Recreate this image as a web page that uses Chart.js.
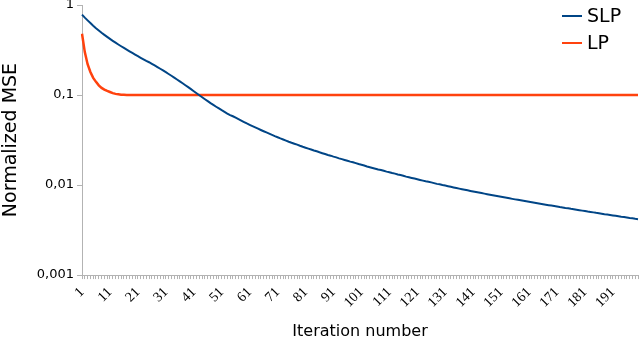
<!DOCTYPE html>
<html>
<head>
<meta charset="utf-8">
<script src="https://cdn.jsdelivr.net/npm/chart.js@4/dist/chart.umd.min.js"></script>
<style>
  body { margin: 0; background: #fff; }
  #wrap { width: 640px; height: 342px; }
</style>
</head>
<body>
<div id="wrap"><canvas id="mse" width="640" height="342"></canvas></div>
<script>
// iteration index 1..200 (category labels)
const iterations = Array.from({ length: 200 }, (_, i) => String(i + 1));

const seriesNames = ['SLP', 'LP'];
const seriesColors = ['#004586', '#ff420e'];

// values
const slp = [
    0.782, 0.724, 0.675, 0.630, 0.589, 0.553, 0.521, 0.492, 0.466, 0.442,
    0.420, 0.400, 0.3815, 0.3642, 0.3481, 0.3332, 0.3191, 0.3058, 0.2933, 0.2813,
    0.2700, 0.2593, 0.2490, 0.2392, 0.2314, 0.2222, 0.2132, 0.2044, 0.1958, 0.1874,
    0.1792, 0.1713, 0.1636, 0.1562, 0.1489, 0.1418, 0.1350, 0.1285, 0.1222, 0.1161,
    0.1103, 0.1047, 0.0994, 0.0944, 0.0897, 0.0854, 0.0813, 0.0776, 0.0741, 0.0709,
    0.0678, 0.0650, 0.0623, 0.0599, 0.0581, 0.0560, 0.0540, 0.0520, 0.0501, 0.0483,
    0.0467, 0.0452, 0.0437, 0.0423, 0.0409, 0.0396, 0.0384, 0.0372, 0.0361, 0.0350,
    0.0340, 0.0330, 0.0321, 0.0312, 0.0303, 0.0295, 0.0288, 0.0281, 0.0273, 0.0266,
    0.0260, 0.0254, 0.0248, 0.0242, 0.0237, 0.0231, 0.0226, 0.0221, 0.0216, 0.0212,
    0.0207, 0.0203, 0.0198, 0.0194, 0.0190, 0.0186, 0.0182, 0.0179, 0.0175, 0.0171,
    0.0168, 0.0165, 0.0161, 0.0158, 0.0155, 0.0152, 0.0149, 0.0147, 0.0144, 0.0141,
    0.0139, 0.0136, 0.0134, 0.0131, 0.0129, 0.0127, 0.0124, 0.0122, 0.0120, 0.0118,
    0.0116, 0.0114, 0.0112, 0.0110, 0.0109, 0.0107, 0.0105, 0.0103, 0.0102, 0.0100,
    0.00986, 0.00971, 0.00956, 0.00941, 0.00927, 0.00913, 0.00900, 0.00887, 0.00874, 0.00861,
    0.00849, 0.00837, 0.00826, 0.00814, 0.00803, 0.00792, 0.00781, 0.00770, 0.00760, 0.00750,
    0.00740, 0.00731, 0.00721, 0.00712, 0.00702, 0.00693, 0.00685, 0.00676, 0.00668, 0.00659,
    0.00651, 0.00643, 0.00635, 0.00628, 0.00620, 0.00613, 0.00605, 0.00598, 0.00591, 0.00584,
    0.00577, 0.00570, 0.00564, 0.00557, 0.00551, 0.00544, 0.00538, 0.00532, 0.00526, 0.00520,
    0.00514, 0.00508, 0.00503, 0.00497, 0.00491, 0.00486, 0.00481, 0.00475, 0.00470, 0.00465,
    0.00460, 0.00455, 0.00450, 0.00445, 0.00441, 0.00436, 0.00431, 0.00427, 0.00422, 0.00418
];

const lp = [
    0.48, 0.30, 0.22, 0.18, 0.155, 0.14, 0.128, 0.12, 0.115, 0.111,
    0.108, 0.105, 0.103, 0.102, 0.101, 0.1005, 0.1, 0.1, 0.1, 0.1,
    0.1, 0.1, 0.1, 0.1, 0.1, 0.1, 0.1, 0.1, 0.1, 0.1,
    0.1, 0.1, 0.1, 0.1, 0.1, 0.1, 0.1, 0.1, 0.1, 0.1,
    0.1, 0.1, 0.1, 0.1, 0.1, 0.1, 0.1, 0.1, 0.1, 0.1,
    0.1, 0.1, 0.1, 0.1, 0.1, 0.1, 0.1, 0.1, 0.1, 0.1,
    0.1, 0.1, 0.1, 0.1, 0.1, 0.1, 0.1, 0.1, 0.1, 0.1,
    0.1, 0.1, 0.1, 0.1, 0.1, 0.1, 0.1, 0.1, 0.1, 0.1,
    0.1, 0.1, 0.1, 0.1, 0.1, 0.1, 0.1, 0.1, 0.1, 0.1,
    0.1, 0.1, 0.1, 0.1, 0.1, 0.1, 0.1, 0.1, 0.1, 0.1,
    0.1, 0.1, 0.1, 0.1, 0.1, 0.1, 0.1, 0.1, 0.1, 0.1,
    0.1, 0.1, 0.1, 0.1, 0.1, 0.1, 0.1, 0.1, 0.1, 0.1,
    0.1, 0.1, 0.1, 0.1, 0.1, 0.1, 0.1, 0.1, 0.1, 0.1,
    0.1, 0.1, 0.1, 0.1, 0.1, 0.1, 0.1, 0.1, 0.1, 0.1,
    0.1, 0.1, 0.1, 0.1, 0.1, 0.1, 0.1, 0.1, 0.1, 0.1,
    0.1, 0.1, 0.1, 0.1, 0.1, 0.1, 0.1, 0.1, 0.1, 0.1,
    0.1, 0.1, 0.1, 0.1, 0.1, 0.1, 0.1, 0.1, 0.1, 0.1,
    0.1, 0.1, 0.1, 0.1, 0.1, 0.1, 0.1, 0.1, 0.1, 0.1,
    0.1, 0.1, 0.1, 0.1, 0.1, 0.1, 0.1, 0.1, 0.1, 0.1,
    0.1, 0.1, 0.1, 0.1, 0.1, 0.1, 0.1, 0.1, 0.1, 0.1
];

// y axis ticks and their labels (decimal comma as in the original)
const yTickValues = [0.001, 0.01, 0.1, 1];
const yTickLabels = ['0,001', '0,01', '0,1', '1'];

const axisGray = '#b3b3b3';

// legend drawn inside the plot, top right
const insideLegend = {
    id: 'insideLegend',
    afterDraw(chart) {
        const ctx = chart.ctx;
        const area = chart.chartArea;
        ctx.save();
        ctx.font = '19px "DejaVu Sans"';
        ctx.textBaseline = 'middle';
        chart.data.datasets.forEach((ds, i) => {
            let y = area.top + 11 + i * 27;
            let x = area.right - 76;
            ctx.strokeStyle = ds.borderColor;
            ctx.lineWidth = 2;
            ctx.beginPath();
            ctx.moveTo(x, y);
            ctx.lineTo(x + 20, y);
            ctx.stroke();
            ctx.fillStyle = '#000';
            ctx.fillText(ds.label, x + 25, y + 1);
        });
        ctx.restore();
    }
};

const ctx = document.getElementById('mse').getContext('2d');
new Chart(ctx, {
    type: 'line',
    data: {
        labels: iterations,
        datasets: [
            { label: seriesNames[0], data: slp, borderColor: seriesColors[0], borderWidth: 2 },
            { label: seriesNames[1], data: lp, borderColor: seriesColors[1], borderWidth: 2.5 }
        ]
    },
    options: {
        responsive: false,
        animation: false,
        devicePixelRatio: 1,
        layout: { padding: { top: 0, right: 2, left: 0, bottom: 1 } },
        elements: { point: { radius: 0 }, line: { tension: 0 } },
        plugins: {
            legend: { display: false },
            tooltip: { enabled: false }
        },
        scales: {
            x: {
                grid: { drawOnChartArea: false, color: axisGray, tickLength: 4 },
                border: { color: axisGray },
                afterFit: s => { s.paddingRight = 0; },
                ticks: {
                    autoSkip: false,
                    minRotation: 45,
                    maxRotation: 45,
                    padding: 5,
                    color: '#000',
                    font: { family: '"Liberation Serif"', size: 14 },
                    callback: (v, i) => (i % 10 === 0 ? iterations[i] : '')
                },
                title: {
                    display: true,
                    text: 'Iteration number',
                    color: '#000',
                    font: { family: '"DejaVu Sans"', size: 16 },
                    padding: { top: 6, bottom: 0 }
                }
            },
            y: {
                type: 'logarithmic',
                min: 0.001,
                max: 1,
                grid: { drawOnChartArea: false, color: axisGray, tickLength: 5 },
                border: { color: axisGray },
                afterBuildTicks: axis => {
                    axis.ticks = yTickValues.map(v => ({ value: v }));
                },
                afterFit: s => { s.paddingTop = 5; },
                ticks: {
                    padding: 3,
                    color: '#000',
                    font: { family: '"DejaVu Sans"', size: 13 },
                    callback: v => yTickLabels[yTickValues.indexOf(v)]
                },
                title: {
                    display: true,
                    text: 'Normalized MSE',
                    color: '#000',
                    font: { family: '"DejaVu Sans"', size: 19 },
                    padding: { top: 0, bottom: 11 }
                }
            }
        }
    },
    plugins: [insideLegend]
});
</script>
</body>
</html>
